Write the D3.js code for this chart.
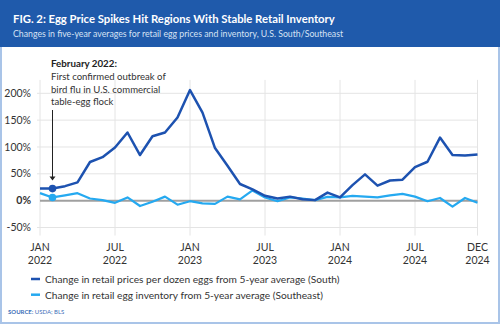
<!DOCTYPE html>
<html>
<head>
<meta charset="utf-8">
<script src="https://cdn.jsdelivr.net/npm/d3@7"></script>
<style>
  body { margin: 0; background: #fff; }
  svg { display: block; font-family: Lato, "Open Sans", sans-serif; }
</style>
</head>
<body>
<div id="chart"></div>
<script>
(function() {
    var width = 500,
        height = 324;

    // month index 0 = Jan 2022 ... 35 = Dec 2024
    var priceSouth = [
        22.5, 22.5, 27, 34, 72, 81, 99, 127, 85, 120, 127, 155,
        206, 164, 98, 65, 31, 21, 9, 4, 7.5, 2.5, 1, 15,
        6, 29, 49, 28, 37.5, 39, 62.5, 72.5, 117.5, 85, 84, 86
    ];
    var inventorySoutheast = [
        14, 6, 10, 14, 4, 1, -4, 6, -10, -2, 7.5, -7.5,
        -1, -5, -6, 7.5, 2.5, 19, 6, -1, 6, 4, 1, 7,
        6, 9, 7.5, 6, 10, 12.5, 7.5, -1, 5, -11, 5, -4
    ];
    var tickMonths = [0, 6, 12, 18, 24, 30, 35];
    var tickMonthLabels = ["JAN", "JUL", "JAN", "JUL", "JAN", "JUL", "DEC"];
    var tickYearLabels = ["2022", "2022", "2023", "2023", "2024", "2024", "2024"];
    var yTicks = [-50, 0, 50, 100, 150, 200];
    var seriesNames = [
        "Change in retail prices per dozen eggs from 5-year average (South)",
        "Change in retail egg inventory from 5-year average (Southeast)"
    ];
    var noteLines = [
        "First confirmed outbreak of",
        "bird flu in U.S. commercial",
        "table-egg flock"
    ];
    var noteMonth = 1;

    var darkBlue = "#1d52b0",
        lightBlue = "#25a9f0",
        headerBlue = "#1f5aab",
        frameBlue = "#a9c4e8";

    var svg = d3.select("#chart")
        .append("svg")
        .attr("width", width)
        .attr("height", height);

    // shrink a text node's font until it fits the given width
    function fit(sel, w) {
        sel.each(function() {
            var node = this,
                len = node.getComputedTextLength(),
                fs = parseFloat(d3.select(node).attr("font-size"));
            if (len > w) d3.select(node).attr("font-size", fs * w / len);
        });
        return sel;
    }

    // frame + header band
    svg.append("rect")
        .attr("x", 0).attr("y", 0)
        .attr("width", width).attr("height", height)
        .attr("fill", frameBlue);
    svg.append("rect")
        .attr("x", 2).attr("y", 47)
        .attr("width", width - 4).attr("height", height - 49)
        .attr("fill", "#fff");
    svg.append("rect")
        .attr("x", 0).attr("y", 0)
        .attr("width", width).attr("height", 47)
        .attr("fill", headerBlue);

    fit(svg.append("text")
        .attr("x", 13).attr("y", 23)
        .attr("fill", "#fff")
        .attr("font-size", 12.2)
        .attr("font-weight", 700)
        .text("FIG. 2: Egg Price Spikes Hit Regions With Stable Retail Inventory"), 322);
    fit(svg.append("text")
        .attr("x", 13).attr("y", 36.5)
        .attr("fill", "#d6e2f4")
        .attr("font-size", 9.2)
        .text("Changes in five-year averages for retail egg prices and inventory, U.S. South/Southeast"), 330);

    var x = d3.scaleLinear()
        .domain([0, 35])
        .range([40, 477.5]);

    var y = d3.scaleLinear()
        .domain([-50, 200])
        .range([227.5, 93.3]);

    var g = svg.append("g");

    // horizontal grid
    g.selectAll(".hgrid")
        .data(yTicks.filter(function(d) { return d !== 0; }))
        .enter().append("line")
        .attr("class", "hgrid")
        .attr("x1", x(0) - 3).attr("x2", x(35))
        .attr("y1", function(d) { return y(d); })
        .attr("y2", function(d) { return y(d); })
        .attr("stroke", "#e4e4e4")
        .attr("stroke-width", 1);

    // vertical grid
    g.selectAll(".vgrid")
        .data(tickMonths)
        .enter().append("line")
        .attr("class", "vgrid")
        .attr("x1", function(d) { return x(d); })
        .attr("x2", function(d) { return x(d); })
        .attr("y1", y(225)).attr("y2", y(-65))
        .attr("stroke", "#e4e4e4")
        .attr("stroke-width", 1);

    // zero line
    g.append("line")
        .attr("x1", x(0)).attr("x2", x(35))
        .attr("y1", y(0)).attr("y2", y(0))
        .attr("stroke", "#a0a0a0")
        .attr("stroke-width", 2);

    // y labels
    g.selectAll(".ylab")
        .data(yTicks)
        .enter().append("text")
        .attr("class", "ylab")
        .attr("x", 31)
        .attr("y", function(d) { return y(d) + 3.6; })
        .attr("text-anchor", "end")
        .attr("font-size", 10.5)
        .attr("font-weight", function(d) { return d === 0 ? 700 : 400; })
        .attr("fill", "#333")
        .text(function(d) { return d + "%"; });

    // x labels
    var xl = g.selectAll(".xlab")
        .data(tickMonths)
        .enter().append("text")
        .attr("class", "xlab")
        .attr("text-anchor", "middle")
        .attr("font-size", 10.5)
        .attr("fill", "#333");
    xl.append("tspan")
        .attr("x", function(d) { return x(d); })
        .attr("y", 251)
        .text(function(d, i) { return tickMonthLabels[i]; });
    xl.append("tspan")
        .attr("x", function(d) { return x(d); })
        .attr("y", 263.5)
        .text(function(d, i) { return tickYearLabels[i]; });

    var line = d3.line()
        .x(function(d, i) { return x(i); })
        .y(function(d) { return y(d); });

    g.append("path")
        .datum(inventorySoutheast)
        .attr("d", line)
        .attr("fill", "none")
        .attr("stroke", lightBlue)
        .attr("stroke-width", 2.2)
        .attr("stroke-linejoin", "round");

    g.append("path")
        .datum(priceSouth)
        .attr("d", line)
        .attr("fill", "none")
        .attr("stroke", darkBlue)
        .attr("stroke-width", 2.5)
        .attr("stroke-linejoin", "round");

    // markers at the outbreak month
    g.append("circle")
        .attr("cx", x(noteMonth)).attr("cy", y(inventorySoutheast[noteMonth]))
        .attr("r", 3.8).attr("fill", lightBlue);
    g.append("circle")
        .attr("cx", x(noteMonth)).attr("cy", y(priceSouth[noteMonth]))
        .attr("r", 3.8).attr("fill", darkBlue);

    // annotation
    fit(svg.append("text")
        .attr("x", 51).attr("y", 67)
        .attr("font-size", 11)
        .attr("font-weight", 700)
        .attr("fill", "#222")
        .text("February 2022:"), 66);
    svg.selectAll(".note")
        .data(noteLines)
        .enter().append("text")
        .attr("class", "note")
        .attr("x", 51)
        .attr("y", function(d, i) { return 79.8 + i * 12.7; })
        .attr("font-size", 11)
        .attr("fill", "#333")
        .text(function(d) { return d; })
        .call(function(s) {
            // keep the three note lines at one size
            var len = s.nodes()[0].getComputedTextLength();
            if (len > 115) s.attr("font-size", 11 * 115 / len);
        });

    var ax = x(noteMonth),
        tipY = y(priceSouth[noteMonth]) - 8;
    svg.append("line")
        .attr("x1", ax).attr("x2", ax)
        .attr("y1", 110).attr("y2", tipY - 3)
        .attr("stroke", "#222")
        .attr("stroke-width", 1);
    svg.append("path")
        .attr("d", "M" + (ax - 3) + "," + (tipY - 4) + "L" + (ax + 3) + "," + (tipY - 4) + "L" + ax + "," + tipY + "Z")
        .attr("fill", "#222");

    // legend
    var legendColors = [darkBlue, lightBlue];
    var legend = svg.selectAll(".legend")
        .data(seriesNames)
        .enter().append("g")
        .attr("class", "legend")
        .attr("transform", function(d, i) { return "translate(31," + (279 + i * 15.7) + ")"; });
    legend.append("line")
        .attr("x1", 0).attr("x2", 9)
        .attr("stroke", function(d, i) { return legendColors[i]; })
        .attr("stroke-width", 2.5);
    legend.append("text")
        .attr("x", 14).attr("y", 3.9)
        .attr("font-size", 11)
        .attr("fill", "#333")
        .text(function(d) { return d; })
        .call(function(s) {
            var len = s.nodes()[0].getComputedTextLength();
            if (len > 295) s.attr("font-size", 11 * 295 / len);
        });

    // source
    var src = svg.append("text")
        .attr("x", 8).attr("y", 313.5)
        .attr("font-size", 6)
        .attr("fill", "#3d6fb8");
    src.append("tspan").attr("font-weight", 700).text("SOURCE: ");
    src.append("tspan").text("USDA; BLS");
})();
</script>
</body>
</html>
